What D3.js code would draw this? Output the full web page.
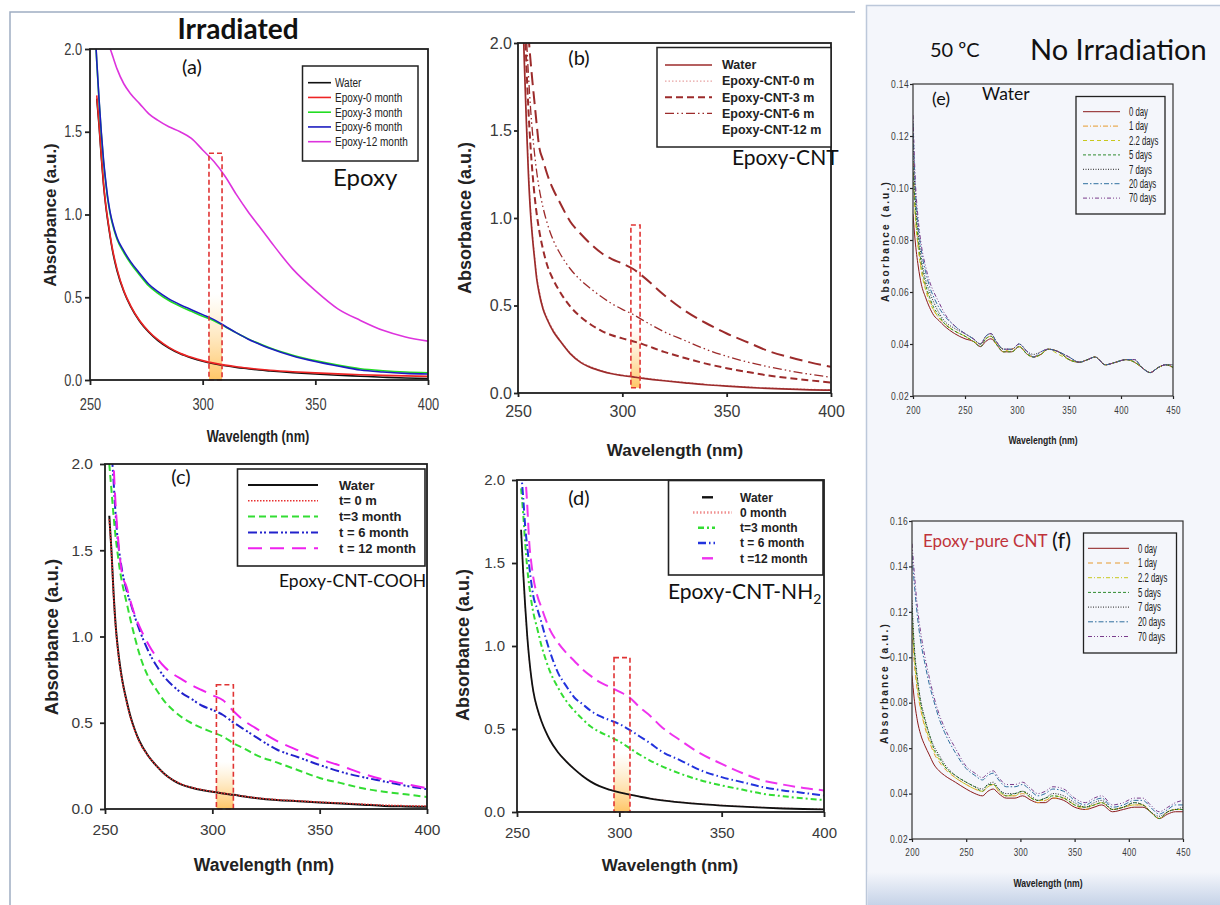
<!DOCTYPE html>
<html>
<head>
<meta charset="utf-8">
<script src="https://cdn.jsdelivr.net/npm/d3@7"></script>
<style>
  body { margin: 0; background: #fff; }
  svg { display: block; }
</style>
</head>
<body>
<svg id="fig" width="1220" height="905"></svg>
<script>
// ---------------- data ----------------
// (a) Irradiated, Epoxy
const wlA = [252.5, 253, 254, 255, 256, 257, 258, 259, 260, 262, 265, 268, 272, 276, 280, 285, 290, 295, 300, 305, 310, 315, 320, 325, 330, 340, 350, 360, 370, 380, 390, 400];
const namesA = ["Water", "Epoxy-0 month", "Epoxy-3 month", "Epoxy-6 month", "Epoxy-12 month"];
const waterA = [null, 1.70, 1.54, 1.35, 1.18, 1.05, 0.95, 0.86, 0.78, 0.66, 0.535, 0.445, 0.355, 0.29, 0.24, 0.193, 0.158, 0.133, 0.113, 0.098, 0.086, 0.076, 0.068, 0.06, 0.054, 0.044, 0.036, 0.029, 0.023, 0.017, 0.012, 0.009];
const epoxy0A = [null, 1.72, 1.55, 1.36, 1.19, 1.06, 0.96, 0.87, 0.79, 0.67, 0.54, 0.45, 0.36, 0.295, 0.245, 0.197, 0.162, 0.137, 0.117, 0.102, 0.09, 0.08, 0.072, 0.065, 0.059, 0.05, 0.043, 0.037, 0.032, 0.028, 0.025, 0.022];
const epoxy3A = [2.05, 1.92, 1.69, 1.49, 1.32, 1.19, 1.08, 1.0, 0.94, 0.85, 0.77, 0.705, 0.635, 0.57, 0.525, 0.48, 0.445, 0.415, 0.385, 0.358, 0.322, 0.285, 0.25, 0.22, 0.193, 0.15, 0.117, 0.09, 0.068, 0.056, 0.048, 0.044];
const epoxy6A = [2.05, 1.93, 1.70, 1.50, 1.33, 1.20, 1.09, 1.01, 0.95, 0.86, 0.78, 0.715, 0.645, 0.58, 0.535, 0.49, 0.455, 0.425, 0.395, 0.365, 0.325, 0.285, 0.248, 0.218, 0.19, 0.145, 0.112, 0.085, 0.06, 0.048, 0.04, 0.036];
const epoxy12A = [null, null, null, null, null, null, 2.04, 2.0, 1.96, 1.88, 1.79, 1.73, 1.67, 1.61, 1.57, 1.53, 1.50, 1.46, 1.39, 1.32, 1.23, 1.12, 1.02, 0.93, 0.84, 0.67, 0.54, 0.43, 0.36, 0.30, 0.26, 0.235];

// (b) Epoxy-CNT
const wlB = [252, 253, 254, 255, 256, 257, 258, 259, 260, 262, 264, 267, 270, 275, 280, 285, 290, 295, 300, 305, 310, 320, 330, 340, 350, 360, 370, 380, 390, 400];
const namesB = ["Water", "Epoxy-CNT-0 m", "Epoxy-CNT-3 m", "Epoxy-CNT-6 m", "Epoxy-CNT-12 m"];
const waterB = [2.3, 1.9, 1.55, 1.25, 1.03, 0.88, 0.76, 0.65, 0.58, 0.48, 0.42, 0.35, 0.30, 0.225, 0.175, 0.145, 0.125, 0.11, 0.10, 0.092, 0.084, 0.07, 0.058, 0.047, 0.039, 0.032, 0.026, 0.022, 0.018, 0.016];
const cnt0B = [2.35, 1.95, 1.6, 1.29, 1.06, 0.9, 0.78, 0.67, 0.6, 0.49, 0.43, 0.36, 0.305, 0.23, 0.18, 0.15, 0.128, 0.113, 0.103, 0.095, 0.087, 0.073, 0.061, 0.05, 0.042, 0.035, 0.029, 0.025, 0.021, 0.019];
const cnt3B = [2.5, 2.2, 1.88, 1.62, 1.41, 1.25, 1.12, 1.02, 0.94, 0.82, 0.73, 0.645, 0.58, 0.495, 0.435, 0.39, 0.355, 0.33, 0.312, 0.296, 0.278, 0.235, 0.2, 0.168, 0.142, 0.12, 0.1, 0.085, 0.072, 0.06];
const cnt6B = [2.6, 2.35, 2.05, 1.82, 1.63, 1.48, 1.36, 1.26, 1.18, 1.06, 0.97, 0.87, 0.8, 0.71, 0.645, 0.595, 0.55, 0.51, 0.478, 0.45, 0.415, 0.35, 0.3, 0.25, 0.21, 0.177, 0.15, 0.127, 0.107, 0.09];
const cnt12B = [2.7, 2.5, 2.25, 2.05, 1.9, 1.77, 1.65, 1.53, 1.42, 1.33, 1.25, 1.16, 1.09, 0.98, 0.91, 0.85, 0.8, 0.765, 0.74, 0.71, 0.665, 0.56, 0.47, 0.4, 0.34, 0.29, 0.24, 0.205, 0.175, 0.15];

// (c) Epoxy-CNT-COOH and (d) Epoxy-CNT-NH2 share the wavelength grid
const wlCD = [252, 253, 254, 255, 256, 257, 258, 260, 262, 264, 266, 270, 274, 278, 282, 286, 290, 295, 300, 305, 310, 315, 320, 330, 340, 350, 360, 370, 380, 390, 400];
const namesC = ["Water", "t= 0 m", "t=3 month", "t = 6 month", "t = 12 month"];
const waterC = [1.70, 1.50, 1.25, 1.06, 0.93, 0.83, 0.75, 0.63, 0.53, 0.455, 0.395, 0.31, 0.25, 0.2, 0.165, 0.14, 0.125, 0.11, 0.1, 0.09, 0.082, 0.072, 0.064, 0.052, 0.045, 0.038, 0.032, 0.025, 0.018, 0.015, 0.013];
const t0C = [1.68, 1.49, 1.24, 1.05, 0.92, 0.82, 0.745, 0.625, 0.525, 0.45, 0.39, 0.31, 0.25, 0.2, 0.166, 0.142, 0.126, 0.112, 0.101, 0.091, 0.083, 0.073, 0.065, 0.054, 0.047, 0.04, 0.034, 0.028, 0.022, 0.019, 0.017];
const t3C = [2.0, 1.85, 1.7, 1.57, 1.47, 1.38, 1.31, 1.2, 1.09, 0.99, 0.9, 0.77, 0.69, 0.62, 0.57, 0.53, 0.5, 0.47, 0.445, 0.42, 0.38, 0.35, 0.315, 0.27, 0.225, 0.18, 0.15, 0.12, 0.1, 0.085, 0.07];
const t6C = [2.4, 2.1, 1.9, 1.7, 1.55, 1.46, 1.38, 1.27, 1.19, 1.11, 1.04, 0.92, 0.83, 0.76, 0.71, 0.67, 0.64, 0.6, 0.575, 0.545, 0.5, 0.46, 0.42, 0.345, 0.3, 0.255, 0.215, 0.185, 0.16, 0.135, 0.115];
const t12C = [2.6, 2.3, 2.0, 1.75, 1.58, 1.45, 1.36, 1.29, 1.2, 1.12, 1.06, 0.96, 0.88, 0.82, 0.78, 0.75, 0.72, 0.69, 0.66, 0.63, 0.565, 0.51, 0.47, 0.395, 0.34, 0.29, 0.25, 0.205, 0.17, 0.145, 0.12];

const namesD = ["Water", "0 month", "t=3 month", "t = 6 month", "t =12 month"];
const waterD = [1.70, 1.45, 1.24, 1.06, 0.92, 0.81, 0.725, 0.62, 0.545, 0.485, 0.435, 0.36, 0.305, 0.258, 0.217, 0.183, 0.157, 0.135, 0.118, 0.104, 0.092, 0.081, 0.072, 0.058, 0.047, 0.039, 0.032, 0.026, 0.021, 0.018, 0.016];
const m0D = [1.68, 1.44, 1.23, 1.05, 0.91, 0.805, 0.72, 0.617, 0.543, 0.484, 0.435, 0.36, 0.306, 0.26, 0.219, 0.185, 0.159, 0.137, 0.12, 0.106, 0.094, 0.083, 0.074, 0.06, 0.049, 0.041, 0.034, 0.028, 0.023, 0.02, 0.018];
const t3D = [1.95, 1.8, 1.62, 1.47, 1.36, 1.27, 1.2, 1.1, 1.0, 0.92, 0.85, 0.75, 0.67, 0.61, 0.56, 0.515, 0.485, 0.455, 0.425, 0.385, 0.345, 0.31, 0.28, 0.23, 0.19, 0.16, 0.135, 0.11, 0.095, 0.082, 0.072];
const t6D = [2.05, 1.9, 1.72, 1.6, 1.48, 1.38, 1.3, 1.22, 1.14, 1.05, 0.97, 0.84, 0.76, 0.69, 0.65, 0.61, 0.58, 0.555, 0.53, 0.495, 0.455, 0.415, 0.37, 0.31, 0.25, 0.21, 0.18, 0.15, 0.13, 0.115, 0.1];
const t12D = [2.5, 2.3, 2.05, 1.85, 1.62, 1.5, 1.41, 1.3, 1.23, 1.16, 1.1, 1.02, 0.96, 0.91, 0.86, 0.82, 0.785, 0.755, 0.725, 0.69, 0.63, 0.58, 0.52, 0.43, 0.35, 0.29, 0.235, 0.19, 0.165, 0.145, 0.13];

// (e) water and (f) epoxy-pure CNT at 50 C, no irradiation
const wlEF = [200, 202, 205, 208, 212, 216, 220, 225, 230, 240, 250, 258, 265, 270, 275, 280, 287, 295, 302, 310, 316, 323, 330, 340, 350, 360, 368, 375, 385, 395, 405, 413, 420, 428, 436, 443, 450];
const daysEF = ["0 day", "1 day", "2.2 days", "5 days", "7 days", "20 days", "70 days"];
const day0E = [0.090, 0.080, 0.070, 0.063, 0.058, 0.054, 0.051, 0.049, 0.047, 0.044, 0.042, 0.041, 0.039, 0.041, 0.042, 0.040, 0.037, 0.037, 0.039, 0.036, 0.035, 0.036, 0.038, 0.037, 0.034, 0.033, 0.034, 0.035, 0.032, 0.033, 0.034, 0.033, 0.031, 0.029, 0.031, 0.032, 0.031];
const day1E = [0.110, 0.092, 0.078, 0.069, 0.062, 0.057, 0.053, 0.050, 0.048, 0.045, 0.043, 0.041, 0.040, 0.042, 0.043, 0.040, 0.037, 0.038, 0.039, 0.036, 0.035, 0.036, 0.038, 0.037, 0.034, 0.033, 0.034, 0.035, 0.032, 0.033, 0.034, 0.033, 0.031, 0.029, 0.031, 0.032, 0.031];
const day22E = [0.105, 0.090, 0.077, 0.068, 0.061, 0.056, 0.053, 0.050, 0.048, 0.045, 0.043, 0.041, 0.040, 0.042, 0.043, 0.040, 0.038, 0.037, 0.039, 0.036, 0.035, 0.036, 0.038, 0.036, 0.034, 0.033, 0.034, 0.035, 0.032, 0.033, 0.034, 0.033, 0.031, 0.029, 0.031, 0.032, 0.032];
const day5E = [0.108, 0.094, 0.080, 0.071, 0.063, 0.058, 0.054, 0.051, 0.048, 0.045, 0.043, 0.041, 0.039, 0.042, 0.043, 0.040, 0.037, 0.037, 0.039, 0.036, 0.035, 0.036, 0.038, 0.037, 0.034, 0.033, 0.034, 0.035, 0.032, 0.033, 0.034, 0.033, 0.031, 0.029, 0.031, 0.032, 0.031];
const day7E = [0.120, 0.098, 0.083, 0.073, 0.065, 0.060, 0.056, 0.052, 0.049, 0.046, 0.044, 0.042, 0.040, 0.043, 0.044, 0.041, 0.038, 0.038, 0.040, 0.037, 0.036, 0.037, 0.038, 0.037, 0.035, 0.033, 0.034, 0.035, 0.032, 0.033, 0.034, 0.034, 0.031, 0.029, 0.031, 0.032, 0.032];
const day20E = [0.125, 0.102, 0.086, 0.076, 0.068, 0.062, 0.058, 0.054, 0.051, 0.047, 0.044, 0.042, 0.040, 0.043, 0.044, 0.041, 0.038, 0.038, 0.040, 0.037, 0.035, 0.037, 0.038, 0.037, 0.035, 0.033, 0.034, 0.035, 0.032, 0.033, 0.034, 0.034, 0.031, 0.029, 0.031, 0.032, 0.032];
const day70E = [0.128, 0.105, 0.088, 0.078, 0.070, 0.064, 0.060, 0.056, 0.052, 0.047, 0.044, 0.042, 0.040, 0.043, 0.044, 0.041, 0.038, 0.038, 0.040, 0.037, 0.035, 0.037, 0.038, 0.037, 0.035, 0.033, 0.034, 0.035, 0.032, 0.033, 0.034, 0.034, 0.031, 0.029, 0.031, 0.032, 0.032];

const day0F = [0.092, 0.082, 0.072, 0.066, 0.061, 0.057, 0.053, 0.050, 0.048, 0.045, 0.042, 0.040, 0.039, 0.041, 0.042, 0.040, 0.038, 0.038, 0.039, 0.037, 0.036, 0.036, 0.038, 0.037, 0.034, 0.033, 0.034, 0.035, 0.032, 0.033, 0.034, 0.034, 0.032, 0.029, 0.031, 0.032, 0.032];
const day1F = [0.112, 0.098, 0.085, 0.077, 0.069, 0.063, 0.058, 0.054, 0.051, 0.047, 0.044, 0.042, 0.041, 0.043, 0.044, 0.041, 0.039, 0.039, 0.040, 0.038, 0.036, 0.037, 0.038, 0.038, 0.035, 0.033, 0.035, 0.036, 0.033, 0.034, 0.035, 0.035, 0.032, 0.029, 0.032, 0.033, 0.033];
const day22F = [0.118, 0.101, 0.087, 0.078, 0.070, 0.064, 0.059, 0.055, 0.052, 0.047, 0.044, 0.042, 0.041, 0.043, 0.044, 0.041, 0.039, 0.039, 0.041, 0.038, 0.037, 0.037, 0.039, 0.038, 0.035, 0.034, 0.035, 0.036, 0.033, 0.034, 0.035, 0.035, 0.032, 0.029, 0.032, 0.033, 0.033];
const day5F = [0.122, 0.104, 0.090, 0.080, 0.072, 0.066, 0.060, 0.056, 0.052, 0.048, 0.045, 0.043, 0.041, 0.044, 0.044, 0.042, 0.039, 0.040, 0.041, 0.038, 0.037, 0.038, 0.039, 0.038, 0.035, 0.034, 0.035, 0.036, 0.033, 0.034, 0.036, 0.035, 0.032, 0.029, 0.032, 0.033, 0.033];
const day7F = [0.125, 0.106, 0.091, 0.081, 0.073, 0.066, 0.061, 0.057, 0.053, 0.048, 0.045, 0.043, 0.042, 0.044, 0.045, 0.042, 0.040, 0.040, 0.041, 0.039, 0.037, 0.038, 0.040, 0.039, 0.036, 0.034, 0.036, 0.037, 0.033, 0.034, 0.036, 0.035, 0.032, 0.030, 0.032, 0.033, 0.034];
const day20F = [0.145, 0.133, 0.118, 0.107, 0.097, 0.088, 0.081, 0.073, 0.067, 0.058, 0.051, 0.048, 0.046, 0.048, 0.049, 0.046, 0.043, 0.043, 0.044, 0.041, 0.039, 0.040, 0.042, 0.041, 0.037, 0.035, 0.037, 0.038, 0.034, 0.035, 0.037, 0.037, 0.034, 0.031, 0.033, 0.035, 0.035];
const day70F = [0.150, 0.138, 0.122, 0.111, 0.100, 0.091, 0.083, 0.075, 0.069, 0.060, 0.052, 0.049, 0.047, 0.049, 0.050, 0.047, 0.044, 0.044, 0.045, 0.042, 0.040, 0.041, 0.043, 0.042, 0.038, 0.036, 0.038, 0.039, 0.035, 0.036, 0.038, 0.038, 0.035, 0.032, 0.034, 0.036, 0.037];

// ticks
const ticksWl = [250, 300, 350, 400];
const ticksAbs = [0, 0.5, 1.0, 1.5, 2.0];
const ticksWlEF = [200, 250, 300, 350, 400, 450];
const ticksE = [0.02, 0.04, 0.06, 0.08, 0.10, 0.12, 0.14];
const ticksF = [0.02, 0.04, 0.06, 0.08, 0.10, 0.12, 0.14, 0.16];

// dashed highlight boxes around ~305 nm: [wl from, wl to, abs bottom, abs top]
const boxA = [302.8, 308.6, 0, 1.37];
const boxB = [304.1, 308.5, 0.03, 0.96];
const boxC = [301.9, 309.8, 0, 0.72];
const boxD = [297.4, 305.2, 0, 0.93];

// ---------------- styles ----------------
const SANS = "'Liberation Sans', Arial, sans-serif";
const CAL = "Lato, 'Open Sans', sans-serif";

const stylesA = [
  { c: "#111", w: 1.6 }, { c: "#ee2424", w: 1.6 }, { c: "#22dd22", w: 1.6 },
  { c: "#1c1cc0", w: 1.6 }, { c: "#dd33dd", w: 1.6 }
];
const MAROON = "#9c2b2b";
const stylesB = [
  { c: MAROON, w: 1.7 }, { c: "#e7a3a3", w: 1.2, d: "1.5,2" }, { c: MAROON, w: 2, d: "7,4" },
  { c: MAROON, w: 1.3, d: "9,3,1.5,3,1.5,3" }, { c: MAROON, w: 2, d: "13,6", noKey: true }
];
const stylesC = [
  { c: "#111", w: 2 }, { c: "#e83030", w: 1.6, d: "1.5,1.5" }, { c: "#33dd33", w: 2, d: "7,4" },
  { c: "#2222cc", w: 2, d: "9,3,2,2,2,3" }, { c: "#ee22ee", w: 2, d: "14,8" }
];
const stylesD = [
  { c: "#111", w: 1.8, k: [702, 713] }, { c: "#f09090", w: 1.2, d: "1.5,2", k: [693, 732] },
  { c: "#33dd33", w: 2, d: "6,3,2,3", k: [698, 715] }, { c: "#2233dd", w: 2, d: "8,3,1.5,3", k: [698, 715] },
  { c: "#ee33ee", w: 2, d: "12,6", k: [702, 713] }
];
const stylesE = [
  { c: "#8b1a1a", w: 1 }, { c: "#e69a2e", w: 1, d: "5,2,1,2" }, { c: "#c8c81e", w: 1, d: "4,3" },
  { c: "#2e8b2e", w: 1, d: "3,2" }, { c: "#222", w: 1, d: "1,1.5" }, { c: "#2f6f9f", w: 1, d: "5,2,1.5,2" },
  { c: "#7a3c8c", w: 1, d: "4,2,1,2,1,2" }
];
const stylesF = [
  { c: "#8b1a1a", w: 1 }, { c: "#e69a2e", w: 1, d: "5,4" }, { c: "#c8c81e", w: 1, d: "4,2,1,2" },
  { c: "#2e8b2e", w: 1, d: "3,2" }, { c: "#222", w: 1, d: "1,1.5" }, { c: "#2f6f9f", w: 1, d: "5,2,1.5,2" },
  { c: "#7a3c8c", w: 1, d: "4,2,1,2,1,2" }
];

// ---------------- drawing ----------------
const svg = d3.select("#fig");
const defs = svg.append("defs");

// squeeze text horizontally (no condensed font installed)
function narrow(sel, f) {
  if (!f || f === 1) return;
  sel.each(function () {
    const L = this.getComputedTextLength();
    d3.select(this).attr("textLength", L * f).attr("lengthAdjust", "spacingAndGlyphs");
  });
}

const glow = defs.append("linearGradient").attr("id", "glow").attr("x1", 0).attr("y1", 0).attr("x2", 0).attr("y2", 1);
glow.append("stop").attr("offset", "0").attr("stop-color", "#ffd080").attr("stop-opacity", 0);
glow.append("stop").attr("offset", "0.62").attr("stop-color", "#ffd890").attr("stop-opacity", 0);
glow.append("stop").attr("offset", "1").attr("stop-color", "#ffbf55").attr("stop-opacity", 0.9);

const shade = defs.append("linearGradient").attr("id", "shade").attr("x1", 0).attr("y1", 0).attr("x2", 0).attr("y2", 1);
shade.append("stop").attr("offset", "0").attr("stop-color", "#f4f6fb");
shade.append("stop").attr("offset", "1").attr("stop-color", "#c6d3e8");

// page frames
svg.append("path").attr("d", "M10,905V12H855").attr("fill", "none").attr("stroke", "#9fadc2").attr("stroke-width", 1.5);
svg.append("rect").attr("x", 866.5).attr("y", 5.5).attr("width", 360).attr("height", 905)
  .attr("fill", "#f4f6fb").attr("stroke", "#bcc8da").attr("stroke-width", 1.5);
svg.append("rect").attr("x", 867.5).attr("y", 872).attr("width", 353).attr("height", 33).attr("fill", "url(#shade)");

function drawPanel(p) {
  const x = d3.scaleLinear().domain(p.xDomain).range([p.left, p.right]);
  const y = d3.scaleLinear().domain(p.yDomain).range([p.bottom, p.top]);
  const g = svg.append("g");
  const clipId = "clip-" + p.id;
  defs.append("clipPath").attr("id", clipId).append("rect")
    .attr("x", p.left).attr("y", p.top).attr("width", p.right - p.left).attr("height", p.bottom - p.top);

  if (p.box) {
    g.append("rect")
      .attr("x", x(p.box[0])).attr("y", y(p.box[3]))
      .attr("width", x(p.box[1]) - x(p.box[0])).attr("height", y(p.box[2]) - y(p.box[3]))
      .attr("fill", "url(#glow)");
  }

  const line = d3.line()
    .defined(d => d[1] !== null)
    .x(d => x(d[0])).y(d => y(d[1]))
    .curve(d3.curveMonotoneX);

  const order = p.order || p.series.map((s, i) => i);
  order.forEach(i => {
    const st = p.styles[i];
    g.append("path")
      .datum(p.wl.map((w, j) => [w, p.series[i][j]]))
      .attr("clip-path", `url(#${clipId})`)
      .attr("fill", "none")
      .attr("stroke", st.c)
      .attr("stroke-width", st.w)
      .attr("stroke-dasharray", st.d || null)
      .attr("d", line);
  });

  if (p.box) {
    g.append("rect")
      .attr("x", x(p.box[0])).attr("y", y(p.box[3]))
      .attr("width", x(p.box[1]) - x(p.box[0])).attr("height", y(p.box[2]) - y(p.box[3]))
      .attr("fill", "none").attr("stroke", "#e03434").attr("stroke-width", 1.6)
      .attr("stroke-dasharray", "5,3");
  }

  const xa = g.append("g").attr("transform", `translate(0,${p.bottom})`)
    .call(d3.axisBottom(x).tickValues(p.xTicks).tickSize(p.tick).tickPadding(p.xPad).tickFormat(d3.format("d")));
  const ya = g.append("g").attr("transform", `translate(${p.left},0)`)
    .call(d3.axisLeft(y).tickValues(p.yTicks).tickSize(p.tick).tickPadding(p.yPad).tickFormat(d3.format(p.yFmt)));
  [[xa, p.xTickSize || p.tickSize, p.xTickNarrow], [ya, p.tickSize, p.yTickNarrow]].forEach(([a, size, nf]) => {
    a.select(".domain").remove();
    a.selectAll(".tick line").attr("stroke", "#222").attr("stroke-width", p.frameW);
    const t = a.selectAll("text").attr("fill", "#3a3a3a").attr("font-family", SANS)
      .attr("font-size", size).attr("letter-spacing", p.tickSpacing || null);
    narrow(t, nf);
  });

  g.append("rect").attr("x", p.left).attr("y", p.top)
    .attr("width", p.right - p.left).attr("height", p.bottom - p.top)
    .attr("fill", "none").attr("stroke", p.frameC || "#1e1e1e").attr("stroke-width", p.frameW);

  // axis titles
  const xl = g.append("text").attr("x", p.xLab[0]).attr("y", p.xLab[1]).attr("text-anchor", "middle")
    .attr("font-family", SANS).attr("font-weight", "bold").attr("font-size", p.xLabSize)
    .attr("fill", "#222").text("Wavelength (nm)");
  narrow(xl, p.xLabNarrow);
  g.append("text").attr("transform", `translate(${p.yLab[0]},${p.yLab[1]}) rotate(-90)`)
    .attr("text-anchor", "middle").attr("font-family", SANS).attr("font-weight", "bold")
    .attr("font-size", p.yLabSize).attr("fill", "#222").attr("letter-spacing", p.yLabSpacing || null)
    .text("Absorbance (a.u.)");

  return { x, y, g };
}

function legend(g, o) {
  g.append("rect").attr("x", o.x0).attr("y", o.y0).attr("width", o.x1 - o.x0).attr("height", o.y1 - o.y0)
    .attr("fill", o.fill || "#fff").attr("stroke", "#222").attr("stroke-width", o.sw);
  o.names.forEach((name, i) => {
    const yy = o.first + i * o.step;
    const st = o.styles[i];
    const k = st.k || [o.l0, o.l1];
    if (!st.noKey) {
      g.append("line").attr("x1", k[0]).attr("x2", k[1]).attr("y1", yy).attr("y2", yy)
        .attr("stroke", st.c).attr("stroke-width", Math.max(st.w, o.minW || 0))
        .attr("stroke-dasharray", st.d || null);
    }
    const t = g.append("text").attr("x", o.tx).attr("y", yy).attr("dy", "0.35em")
      .attr("font-family", SANS).attr("font-size", o.size).attr("font-weight", o.weight || "normal")
      .attr("fill", "#222").text(name);
    narrow(t, o.narrow);
  });
}

function label(txt, x, y, size, opts = {}) {
  return svg.append("text").attr("x", x).attr("y", y)
    .attr("font-family", opts.font || CAL).attr("font-size", size)
    .attr("font-weight", opts.weight || "normal").attr("fill", opts.color || "#111")
    .attr("text-anchor", opts.anchor || "start").text(txt);
}

// (a)
const pA = drawPanel({
  id: "a", left: 90, right: 428, top: 49, bottom: 380,
  xDomain: [250, 400], yDomain: [0, 2], xTicks: ticksWl, yTicks: ticksAbs, yFmt: ".1f",
  wl: wlA, series: [waterA, epoxy0A, epoxy3A, epoxy6A, epoxy12A], styles: stylesA, box: boxA,
  tick: 5, xPad: 14, yPad: 3, tickSize: 16, xTickNarrow: 0.8, yTickNarrow: 0.8, frameW: 1.8,
  xLabSize: 16, xLabNarrow: 0.8, xLab: [258, 442], yLabSize: 17, yLab: [56, 215]
});
legend(pA.g, { x0: 302.5, y0: 66, x1: 418, y1: 161, sw: 1.5, names: namesA, styles: stylesA,
  first: 82.7, step: 14.75, l0: 308, l1: 331, tx: 335, size: 12.5, narrow: 0.8 });

// (b)
const pB = drawPanel({
  id: "b", left: 518, right: 831, top: 43, bottom: 393,
  xDomain: [250, 400], yDomain: [0, 2], xTicks: ticksWl, yTicks: ticksAbs, yFmt: ".1f",
  wl: wlB, series: [waterB, cnt0B, cnt3B, cnt6B, cnt12B], styles: stylesB, box: boxB, order: [1, 0, 2, 3, 4],
  tick: 4, xPad: 9, yPad: 2, tickSize: 16, frameW: 1.8,
  xLabSize: 17, xLab: [675, 456], yLabSize: 18, yLab: [471, 218]
});
legend(pB.g, { x0: 657, y0: 47.5, x1: 831, y1: 147, sw: 1.5, names: namesB, styles: stylesB,
  first: 65, step: 16.1, l0: 665, l1: 712, tx: 722, size: 12.5, weight: "bold" });

// (c)
const pC = drawPanel({
  id: "c", left: 105, right: 427, top: 464, bottom: 809,
  xDomain: [250, 400], yDomain: [0, 2], xTicks: ticksWl, yTicks: ticksAbs, yFmt: ".1f",
  wl: wlCD, series: [waterC, t0C, t3C, t6C, t12C], styles: stylesC, box: boxC,
  tick: 5, xPad: 10, yPad: 7, tickSize: 15.5, frameW: 1.8,
  xLabSize: 17.5, xLab: [264, 871], yLabSize: 18.5, yLab: [58, 637]
});
legend(pC.g, { x0: 237.5, y0: 469, x1: 425, y1: 566, sw: 1.6, names: namesC, styles: stylesC,
  first: 485, step: 15.8, l0: 248, l1: 318, tx: 339, size: 13, weight: "bold" });

// (d)
const pD = drawPanel({
  id: "d", left: 517, right: 824, top: 480, bottom: 812,
  xDomain: [250, 400], yDomain: [0, 2], xTicks: ticksWl, yTicks: ticksAbs, yFmt: ".1f",
  wl: wlCD, series: [waterD, m0D, t3D, t6D, t12D], styles: stylesD, box: boxD, order: [1, 0, 2, 3, 4],
  tick: 5, xPad: 10, yPad: 7, tickSize: 15, frameW: 1.8,
  xLabSize: 17, xLab: [670, 871], yLabSize: 18, yLab: [469, 645]
});
legend(pD.g, { x0: 668.5, y0: 480.5, x1: 823, y1: 575, sw: 1.6, names: namesD, styles: stylesD,
  first: 497.3, step: 15.25, tx: 740, size: 12, weight: "bold", minW: 2.4 });

// (e)
const pE = drawPanel({
  id: "e", left: 913, right: 1173, top: 84, bottom: 396,
  xDomain: [200, 450], yDomain: [0.02, 0.14], xTicks: ticksWlEF, yTicks: ticksE, yFmt: ".2f",
  wl: wlEF, series: [day0E, day1E, day22E, day5E, day7E, day20E, day70E], styles: stylesE,
  tick: 3, xPad: 7, yPad: 1, tickSize: 10, xTickSize: 11.5, xTickNarrow: 0.7, yTickNarrow: 0.85,
  tickSpacing: 0.4, frameW: 1.2, frameC: "#333",
  xLabSize: 11.5, xLabNarrow: 0.75, xLab: [1043, 444], yLabSize: 10, yLabSpacing: 2.2, yLab: [889, 241]
});
legend(pE.g, { x0: 1076, y0: 96.5, x1: 1165, y1: 214, sw: 1.3, fill: "none", names: daysEF, styles: stylesE,
  first: 111.7, step: 14.4, l0: 1083, l1: 1120, tx: 1129, size: 12.5, narrow: 0.62 });

// (f)
const pF = drawPanel({
  id: "f", left: 912, right: 1183, top: 521, bottom: 839,
  xDomain: [200, 450], yDomain: [0.02, 0.16], xTicks: ticksWlEF, yTicks: ticksF, yFmt: ".2f",
  wl: wlEF, series: [day0F, day1F, day22F, day5F, day7F, day20F, day70F], styles: stylesF,
  tick: 3, xPad: 6, yPad: 1, tickSize: 10, xTickSize: 11.5, xTickNarrow: 0.7, yTickNarrow: 0.85,
  tickSpacing: 0.4, frameW: 1.2, frameC: "#333",
  xLabSize: 11.5, xLabNarrow: 0.75, xLab: [1048, 887], yLabSize: 10, yLabSpacing: 2.2, yLab: [888, 683]
});
legend(pF.g, { x0: 1083.5, y0: 533, x1: 1176.5, y1: 653, sw: 1.3, fill: "none", names: daysEF, styles: stylesF,
  first: 548.3, step: 14.7, l0: 1088, l1: 1129, tx: 1138, size: 12.5, narrow: 0.62 });

// titles and panel tags
label("Irradiated", 238, 39, 28, { weight: "bold", anchor: "middle" });
label("(a)", 192, 74, 20, { anchor: "middle" });
label("Epoxy", 333, 186, 24);
label("(b)", 579, 65, 20, { anchor: "middle" });
label("Epoxy-CNT", 732, 165, 21);
label("(c)", 181, 484, 20, { anchor: "middle" });
label("Epoxy-CNT-COOH", 279, 587, 17.5);
label("(d)", 579, 505, 20, { anchor: "middle" });
const nh2 = label("Epoxy-CNT-NH", 668, 599, 21);
nh2.append("tspan").attr("font-size", 14).attr("dy", 5).text("2");
label("50 ºC", 930, 57, 20);
label("No Irradiation", 1030, 60, 29);
label("(e)", 932, 105, 18);
label("Water", 982, 100, 17.5);
label("Epoxy-pure CNT", 923, 547, 17, { color: "#c0333a" });
label("(f)", 1052, 548, 22);
</script>
</body>
</html>
